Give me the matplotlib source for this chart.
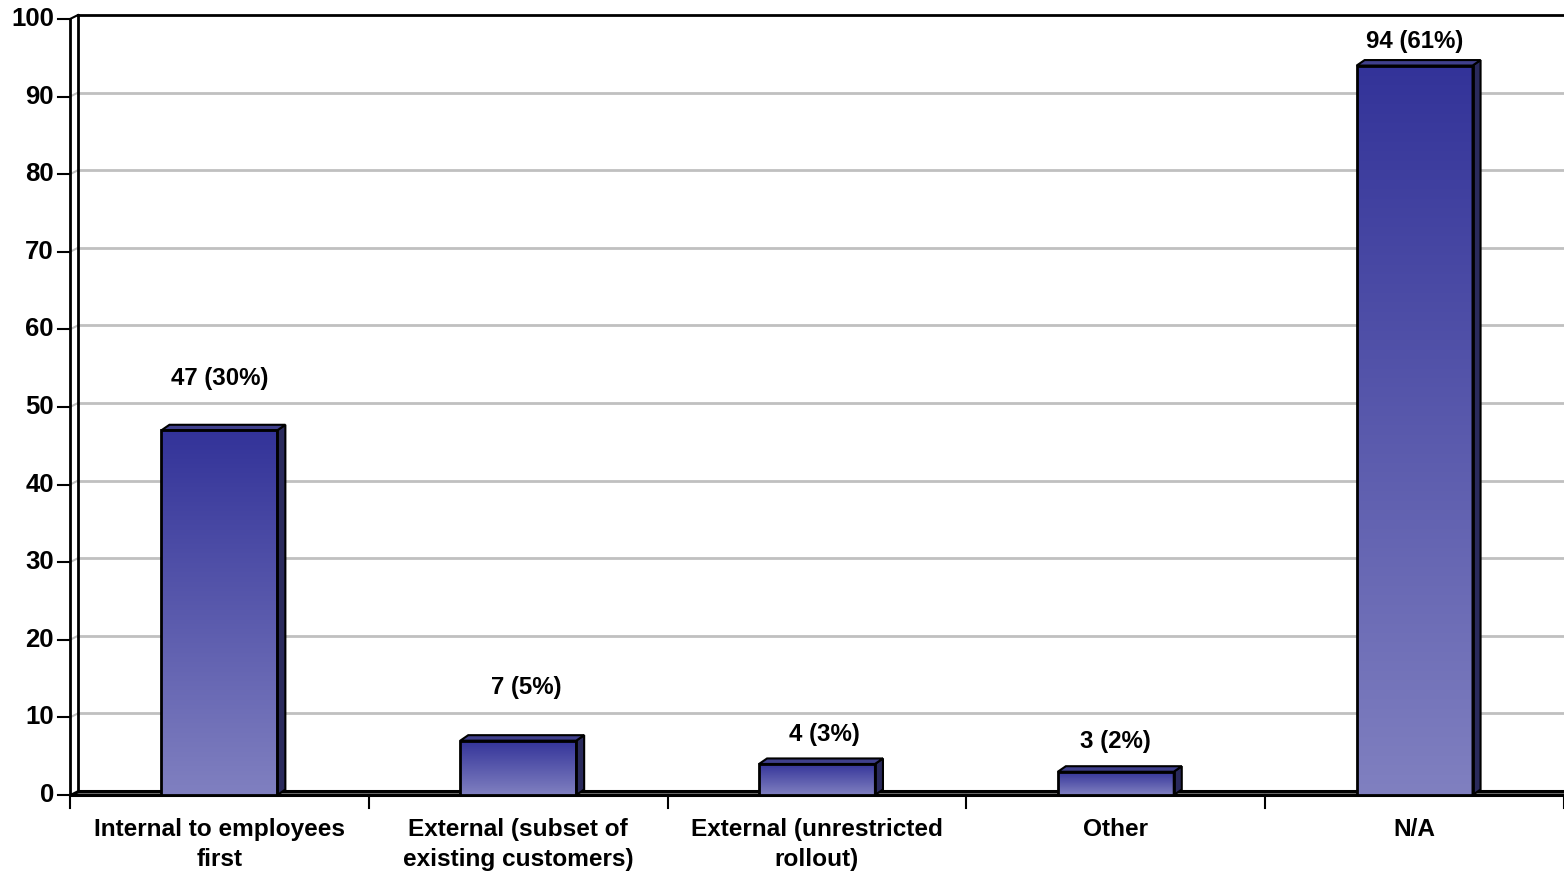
import numpy as np
import matplotlib.pyplot as plt
from matplotlib.patches import Polygon

plt.rcParams['font.family'] = ['Liberation Sans', 'DejaVu Sans']
plt.rcParams['font.weight'] = 'bold'

categories = ['Internal to employees\nfirst', 'External (subset of\nexisting customers)',
              'External (unrestricted\nrollout)', 'Other', 'N/A']
counts = [47, 7, 4, 3, 94]
percents = [30, 5, 3, 2, 61]
yticks = list(range(0, 101, 10))

# label offsets from the bar top centre, in points
label_dx = [0, 6, 5, 0, 0]
label_gap = [37.5, 38.5, 21.5, 21.5, 17.5]

fig = plt.figure(figsize=(15.64, 8.74), dpi=100)
ax = fig.add_axes([70 / 1564, 79 / 874, 1494 / 1564, 776 / 874])
ax.set_xlim(0, 5)
ax.set_ylim(0, 100)
ax.axis('off')

# pixel -> data helpers for the fake 3D depth
px_x = 5 / 1494
px_y = 100 / 776
wdx, wdy = 8 * px_x, 4 * px_y      # wall depth
bdx, bdy = 8 * px_x, 5.5 * px_y    # bar depth

# back wall gridlines plus the short slant on the left wall
for t in yticks[1:-1]:
    ax.plot([wdx, 5.2], [t + wdy, t + wdy], color='#c0c0c0', lw=2, zorder=1, clip_on=False)
    ax.plot([0, wdx], [t, t + wdy], color='#c0c0c0', lw=1.5, zorder=1)

# walls
ax.plot([wdx, 5.2], [100 + wdy, 100 + wdy], color='black', lw=2, zorder=2, clip_on=False)
ax.plot([wdx, wdx], [wdy, 100 + wdy], color='black', lw=2, zorder=2, clip_on=False)
ax.plot([0, 0], [0, 100], color='black', lw=2, zorder=2, clip_on=False)
ax.plot([0, wdx], [100, 100 + wdy], color='black', lw=1.5, zorder=2, clip_on=False)

# floor
floor = Polygon([[0, 0], [5.2, 0], [5.2, wdy], [wdx, wdy]], closed=True,
                facecolor='#707070', edgecolor='black', lw=2.2, zorder=2, clip_on=False)
ax.add_patch(floor)

# axis ticks
for t in yticks:
    ax.plot([-12 * px_x, 0], [t, t], color='black', lw=1.5, clip_on=False, zorder=2)
    ax.text(-16 * px_x, t, str(t), ha='right', va='center', fontsize=18.5, fontweight='bold')
for i in range(6):
    ax.plot([i, i], [0, -13 * px_y], color='black', lw=1.5, clip_on=False, zorder=2)

# bars with a vertical gradient
top_col = np.array([51, 51, 153]) / 255
bot_col = np.array([128, 128, 192]) / 255
grad = np.linspace(0, 1, 256)[:, None, None]
ramp = top_col * (1 - grad) + bot_col * grad

width = 0.388
for i, (v, p) in enumerate(zip(counts, percents)):
    x0 = i + 0.5 - width / 2
    x1 = x0 + width
    ax.imshow(ramp, extent=[x0, x1, 0, v], origin='upper', aspect='auto', zorder=3,
              interpolation='bilinear')
    side = Polygon([[x1, 0], [x1 + bdx, bdy], [x1 + bdx, v + bdy], [x1, v]], closed=True,
                   facecolor='#2a2a5c', edgecolor='black', lw=1.5, zorder=3)
    top = Polygon([[x0, v], [x0 + bdx, v + bdy], [x1 + bdx, v + bdy], [x1, v]], closed=True,
                  facecolor='#40408c', edgecolor='black', lw=1.5, zorder=3)
    front = Polygon([[x0, 0], [x1, 0], [x1, v], [x0, v]], closed=True,
                    facecolor='none', edgecolor='black', lw=2, zorder=4)
    ax.add_patch(side)
    ax.add_patch(top)
    ax.add_patch(front)
    ax.annotate(f'{v} ({p}%)', xy=(i + 0.5, v), xytext=(label_dx[i], label_gap[i]),
                textcoords='offset points', ha='center', va='center',
                fontsize=17.3, fontweight='bold', zorder=5)
    ax.text(i + 0.5, -23 * px_y, categories[i], ha='center', va='top',
            fontsize=17.6, fontweight='bold', linespacing=1.38)

ax.set_xlim(0, 5)
ax.set_ylim(0, 100)
fig.savefig('out.png', dpi=100)
